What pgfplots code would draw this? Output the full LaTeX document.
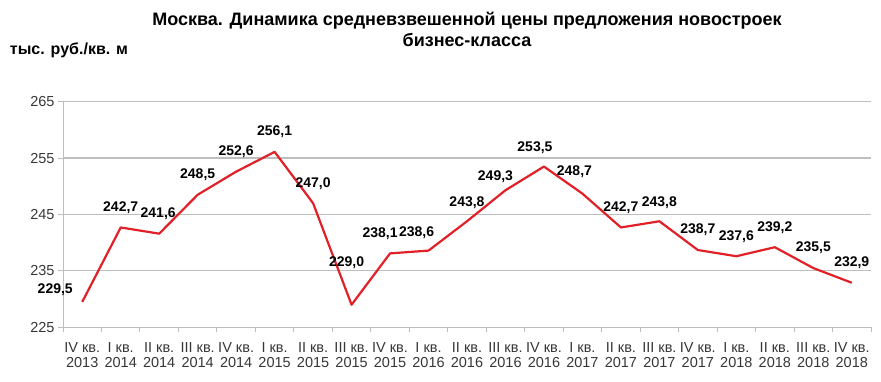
\documentclass[border=0pt]{standalone}
\usepackage{fontspec}
\setmainfont{Liberation Sans}
\usepackage{pgfplots}
\pgfplotsset{compat=1.18}
\usepackage{pgfplotstable}
\definecolor{linered}{RGB}{226,32,40}
\definecolor{gridgray}{RGB}{190,190,190}
\definecolor{ticktext}{RGB}{55,55,55}

% x, value, label offset in px (dx right, dy up)
\pgfplotstableread{
x y dx dy
0.5 229.5 -27 12
1.5 242.7 0 20
2.5 241.6 -1 20
3.5 248.5 0 20
4.5 252.6 0 20
5.5 256.1 0 20
6.5 247.0 0 20
7.5 229.0 -5 42
8.5 238.1 -10 20
9.5 238.6 -12 18
10.5 243.8 0 19
11.5 249.3 -10 14
12.5 253.5 -9 19
13.5 248.7 -8 22
14.5 242.7 0 20
15.5 243.8 0 19
16.5 238.7 0 20
17.5 237.6 0 20
18.5 239.2 0 20
19.5 235.5 0 20
20.5 232.9 0 20
}\datatable

\begin{document}
\begin{tikzpicture}
\useasboundingbox (0,0) rectangle (881pt,382pt);
\node[font=\fontsize{18}{21.5}\selectfont\bfseries, align=center] at (467pt,352.5pt)
  {Москва. Динамика средневзвешенной цены предложения новостроек\\бизнес-класса};
\node[font=\fontsize{16}{18}\selectfont\bfseries] at (69pt,332pt) {тыс. руб./кв. м};
\begin{axis}[
  at={(63pt,54.7pt)}, anchor=south west,
  scale only axis, width=808pt, height=225.6pt,
  xmin=0, xmax=21, ymin=225, ymax=265,
  clip=false,
  /pgf/number format/assume math mode=true,
  axis x line*=bottom, axis y line*=left,
  axis line style={-, gridgray, line width=1pt},
  ytick={225,235,245,255,265},
  xtick={0.5,1.5,2.5,3.5,4.5,5.5,6.5,7.5,8.5,9.5,10.5,11.5,12.5,13.5,14.5,15.5,16.5,17.5,18.5,19.5,20.5},
  xticklabels={{IV кв.\\2013},{I кв.\\2014},{II кв.\\2014},{III кв.\\2014},{IV кв.\\2014},{I кв.\\2015},{II кв.\\2015},{III кв.\\2015},{IV кв.\\2015},{I кв.\\2016},{II кв.\\2016},{III кв.\\2016},{IV кв.\\2016},{I кв.\\2017},{II кв.\\2017},{III кв.\\2017},{IV кв.\\2017},{I кв.\\2018},{II кв.\\2018},{III кв.\\2018},{IV кв.\\2018}},
  minor xtick={0,1,...,21},
  tick align=outside,
  major tick length=5pt, minor tick length=5pt,
  every major x tick/.append style={draw=none},
  tick style={gridgray, line width=1pt},
  ymajorgrids, grid style={gridgray, line width=1.2pt},
  yticklabel style={font=\fontsize{14.5}{16}\selectfont, text=ticktext},
  xticklabel style={font=\fontsize{14.5}{15}\selectfont, text=ticktext, align=center, yshift=-7pt},
]
\addplot[linered, line width=2.2pt, line join=round, mark=none] table[x=x, y=y] {\datatable};
\addplot[draw=none, mark=none, point meta=explicit,
  nodes near coords,
  every node near coord/.append style={font=\fontsize{14}{16}\selectfont\bfseries, text=black, anchor=center, inner sep=0pt,
    /pgf/number format/.cd, use comma, fixed, fixed zerofill, precision=1, assume math mode=true},
] table[x expr=\thisrow{x}+\thisrow{dx}/38.476, y expr=\thisrow{y}+\thisrow{dy}/5.64, meta=y] {\datatable};
\end{axis}
\end{tikzpicture}
\end{document}
